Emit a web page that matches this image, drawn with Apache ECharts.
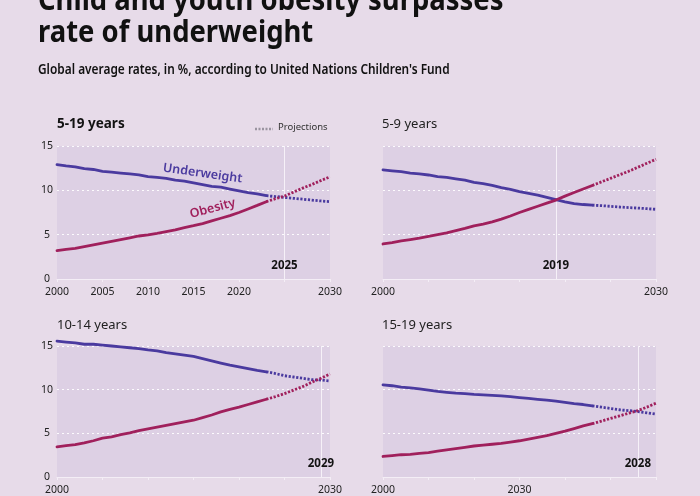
<!DOCTYPE html>
<html>
<head>
<meta charset="utf-8">
<script src="https://cdn.jsdelivr.net/npm/echarts@6/dist/echarts.min.js"></script>
<style>
html,body{margin:0;padding:0;background:#e7dbe9;}
#chart{width:700px;height:496px;}
</style>
</head>
<body>
<div id="chart"></div>
<script>
// ---------- data ----------
var years = [2000,2001,2002,2003,2004,2005,2006,2007,2008,2009,2010,2011,2012,2013,2014,2015,2016,2017,2018,2019,2020,2021,2022,2023,2024,2025,2026,2027,2028,2029,2030];
var lastObserved = 2023;

var panelTitles = ['5-19 years','5-9 years','10-14 years','15-19 years'];
var crossYears = [2025, 2019, 2029, 2028];

var under_5_19 = [12.9,12.75,12.65,12.45,12.35,12.15,12.05,11.95,11.85,11.75,11.55,11.45,11.35,11.15,11.05,10.85,10.65,10.45,10.35,10.15,9.95,9.75,9.6,9.4,9.3,9.2,9.1,9.0,8.9,8.8,8.72];
var obese_5_19 = [3.2,3.35,3.45,3.65,3.85,4.05,4.25,4.45,4.65,4.85,4.98,5.15,5.35,5.55,5.8,6.02,6.25,6.55,6.85,7.15,7.5,7.9,8.3,8.72,9.05,9.35,9.8,10.25,10.65,11.1,11.52];

var under_5_9 = [12.3,12.2,12.1,11.95,11.85,11.73,11.55,11.45,11.3,11.15,10.9,10.75,10.55,10.3,10.1,9.85,9.65,9.45,9.2,8.95,8.7,8.5,8.4,8.33,8.27,8.2,8.12,8.05,8.0,7.93,7.86];
var obese_5_9 = [3.95,4.1,4.3,4.45,4.6,4.8,5.0,5.2,5.45,5.7,6.0,6.2,6.45,6.75,7.1,7.5,7.85,8.2,8.55,8.9,9.35,9.75,10.15,10.55,10.95,11.35,11.75,12.15,12.6,13.05,13.5];

var under_10_14 = [15.55,15.45,15.35,15.2,15.2,15.1,15.0,14.9,14.8,14.7,14.55,14.45,14.25,14.1,13.95,13.8,13.55,13.3,13.05,12.8,12.6,12.4,12.2,12.05,11.85,11.6,11.45,11.3,11.15,11.1,11.0];
var obese_10_14 = [3.45,3.6,3.7,3.9,4.15,4.45,4.6,4.85,5.05,5.3,5.5,5.7,5.9,6.1,6.3,6.5,6.8,7.1,7.45,7.75,8.0,8.3,8.6,8.9,9.2,9.55,9.95,10.35,10.85,11.3,11.8];

var under_15_19 = [10.55,10.45,10.3,10.2,10.1,9.95,9.8,9.7,9.6,9.55,9.45,9.4,9.35,9.3,9.2,9.1,9.0,8.9,8.8,8.7,8.55,8.4,8.3,8.15,8.0,7.85,7.7,7.6,7.5,7.35,7.2];
var obese_15_19 = [2.35,2.45,2.55,2.6,2.7,2.8,2.95,3.1,3.25,3.4,3.55,3.65,3.75,3.85,4.0,4.15,4.35,4.55,4.75,5.0,5.25,5.55,5.85,6.1,6.4,6.7,7.0,7.3,7.6,8.0,8.45];

var underSets = [under_5_19, under_5_9, under_10_14, under_15_19];
var obeseSets = [obese_5_19, obese_5_9, obese_10_14, obese_15_19];

// x tick labels shown per panel: tick value -> label text
var xLabelMaps = [
  {2000:'2000',2005:'2005',2010:'2010',2015:'2015',2020:'2020',2030:'2030'},
  {2000:'2000',2030:'2030'},
  {2000:'2000',2030:'2030'},
  {2000:'2000',2015:'2030'}
];

// ---------- styles ----------
var C_UNDER = '#4a3a9f';
var C_OBESE = '#a0205c';
var BG = '#e7dbe9';
var PLOT_BG = '#ddd0e4';
var FONT = 'Noto Sans';

var grids = [
  {left:57, top:146, width:273, height:133},
  {left:383, top:146, width:273, height:133},
  {left:57, top:346, width:273, height:132},
  {left:383, top:346, width:273, height:132}
];

function pairs(vals, from, to){
  var out = [];
  for (var i=0;i<years.length;i++){
    if (years[i]>=from && years[i]<=to) out.push([years[i], vals[i]]);
  }
  return out;
}

var option = {
  backgroundColor: BG,
  animation: false,
  textStyle: {fontFamily: FONT},
  grid: grids.map(function(g){ return Object.assign({show:true, backgroundColor:PLOT_BG, borderWidth:0}, g); }),
  xAxis: grids.map(function(g, i){
    return {
      type:'value', gridIndex:i, min:2000, max:2030, interval:5,
      axisLine:{show:true, lineStyle:{color:'#f4eef6', width:1}},
      axisTick:{show:true, length:3, lineStyle:{color:'#f4eef6'}},
      splitLine:{show:false},
      axisLabel:{
        color:'#222', fontSize:10.5, margin:8, fontFamily:FONT,
        showMinLabel:true, showMaxLabel:true,
        formatter:function(v){ return xLabelMaps[i][v] || ''; }
      }
    };
  }),
  yAxis: grids.map(function(g, i){
    return {
      type:'value', gridIndex:i, min:0, max:15, interval:5,
      axisLine:{show:false}, axisTick:{show:false},
      splitLine:{show:true, lineStyle:{color:'#ffffff', type:[2,3], width:1, opacity:0.9}},
      axisLabel:{show: (i===0 || i===2), color:'#222', fontSize:10.5, margin:10, align:'center', fontFamily:FONT}
    };
  }),
  graphic: [
    {type:'text', x:38, y:-14, scaleX:0.885, style:{text:'Child and youth obesity surpasses', font:'bold 31px "Noto Sans"', fill:'#111', verticalAlign:'top'}},
    {type:'text', x:38, y:18, scaleX:0.885, style:{text:'rate of underweight', font:'bold 31px "Noto Sans"', fill:'#111', verticalAlign:'top'}},
    {type:'text', x:38, y:63, scaleX:0.88, style:{text:"Global average rates, in %, according to United Nations Children's Fund", font:'600 13.5px "Noto Sans"', fill:'#111', verticalAlign:'top'}},
    {type:'text', x:57, y:117, style:{text:panelTitles[0], font:'bold 13.5px "Noto Sans"', fill:'#111', verticalAlign:'top'}},
    {type:'text', x:382, y:118, style:{text:panelTitles[1], font:'13px "Noto Sans"', fill:'#222', verticalAlign:'top'}},
    {type:'text', x:57, y:319, style:{text:panelTitles[2], font:'13px "Noto Sans"', fill:'#222', verticalAlign:'top'}},
    {type:'text', x:382, y:319, style:{text:panelTitles[3], font:'13px "Noto Sans"', fill:'#222', verticalAlign:'top'}},
    {type:'line', shape:{x1:255, y1:129, x2:273, y2:129}, style:{stroke:'#9a94a0', lineWidth:2.5, lineDash:[2,1.5]}},
    {type:'text', x:278, y:122.5, style:{text:'Projections', font:'9.5px "Noto Sans"', fill:'#333', verticalAlign:'top'}}
  ],
  series: []
};

for (var p=0; p<4; p++){
  var yr = crossYears[p];
  var solid = {width:2.8, cap:'round'};
  var dotted = {width:2.8, type:[2.2,1.6], cap:'butt'};
  option.series.push({
    type:'line', xAxisIndex:p, yAxisIndex:p, symbol:'none', smooth:false, z:3, clip:false,
    data: pairs(underSets[p], 2000, lastObserved),
    lineStyle: Object.assign({color:C_UNDER}, solid),
    markLine: {silent:true, symbol:'none', label:{show:false}, z:1,
      lineStyle:{color:'#f6f1f8', type:'solid', width:1},
      data:[{xAxis: yr}]},
    markPoint: {silent:true, symbol:'circle', symbolSize:1, itemStyle:{color:'rgba(0,0,0,0)'},
      label:{show:true, position:'inside', color:'#111', fontWeight:'bold', fontSize:11.5, fontFamily:FONT},
      data:[{coord:[yr, 1.55], value:String(yr)}].concat(p===0 ? [
        {coord:[2016.0, 11.9], value:'Underweight', label:{formatter:'Underweight', rotate:-8, color:C_UNDER, fontWeight:600, fontSize:12.5}}
      ] : [])}
  });
  option.series.push({
    type:'line', xAxisIndex:p, yAxisIndex:p, symbol:'none', z:3, clip:false,
    data: pairs(underSets[p], lastObserved, 2030),
    lineStyle: Object.assign({color:C_UNDER}, dotted)
  });
  option.series.push({
    type:'line', xAxisIndex:p, yAxisIndex:p, symbol:'none', z:4, clip:false,
    data: pairs(obeseSets[p], 2000, lastObserved),
    lineStyle: Object.assign({color:C_OBESE}, solid),
    markPoint: p===0 ? {silent:true, symbol:'circle', symbolSize:1, itemStyle:{color:'rgba(0,0,0,0)'},
      label:{show:true, position:'inside', formatter:'Obesity', rotate:15, color:C_OBESE, fontWeight:600, fontSize:12.5, fontFamily:FONT},
      data:[{coord:[2017.1, 7.95]}]} : undefined
  });
  option.series.push({
    type:'line', xAxisIndex:p, yAxisIndex:p, symbol:'none', z:4, clip:false,
    data: pairs(obeseSets[p], lastObserved, 2030),
    lineStyle: Object.assign({color:C_OBESE}, dotted)
  });
}

var chart = echarts.init(document.getElementById('chart'), null, {renderer:'canvas'});
chart.setOption(option);
</script>
</body>
</html>
